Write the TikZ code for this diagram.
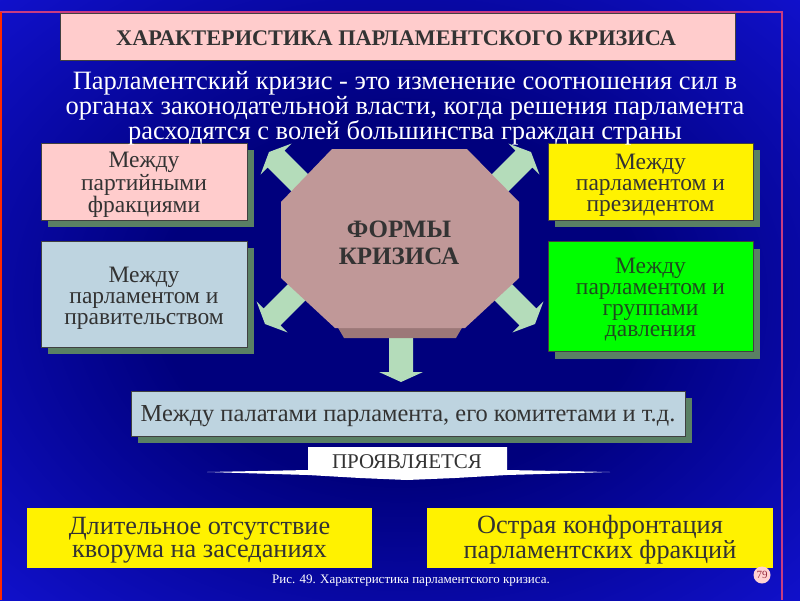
\documentclass[tikz,border=0pt]{standalone}
\usepackage{fontspec}
\setmainfont{Liberation Serif}
\usetikzlibrary{shadows}
\definecolor{bgdark}{RGB}{0,0,125}
\definecolor{bglight}{RGB}{22,22,228}
\definecolor{borderpink}{RGB}{200,60,130}
\definecolor{borderred}{RGB}{255,40,0}
\definecolor{pinkfill}{RGB}{255,204,204}
\definecolor{bluefill}{RGB}{190,212,224}
\definecolor{shadowc}{RGB}{90,128,100}
\definecolor{octfill}{RGB}{192,152,152}
\definecolor{octdark}{RGB}{156,120,120}
\definecolor{arrowc}{RGB}{180,220,186}
\definecolor{textc}{RGB}{51,51,51}
\definecolor{greentext}{RGB}{30,75,30}
\definecolor{badgefill}{RGB}{255,210,210}
\definecolor{badgetext}{RGB}{150,40,60}
\pgfdeclareradialshading{bgshade}{\pgfpoint{0bp}{0bp}}{color(0bp)=(bgdark); color(15bp)=(bgdark); color(42bp)=(bglight); color(100bp)=(bglight)}
\tikzset{
  boxbase/.style={rectangle, draw=black!75, line width=0.6pt, inner sep=0pt},
  shadowbox/.style={boxbase, drop shadow={shadow xshift=7pt, shadow yshift=-7pt, fill=shadowc, opacity=1}},
  boxtext/.style={align=center, inner sep=0pt, text=textc, font=\fontsize{23.5}{21}\selectfont},
  blockarr/.style={fill=arrowc, draw=none},
}
\newcommand{\blockarrow}[4]{%
  \begin{scope}[shift={(#1,#2)}, rotate=#3]
    \fill[blockarr] (0,0) -- (-10,22) -- (-10,12) -- (-#4,12) -- (-#4,-12) -- (-10,-12) -- (-10,-22) -- cycle;
  \end{scope}}
\begin{document}
\begin{tikzpicture}[x=1pt,y=-1pt]
\useasboundingbox (0,0) rectangle (800,600);
\fill[shading=bgshade] (0,0) rectangle (800,600);
\draw[borderpink, line width=2pt] (0,12) -- (782,12) -- (782,600);
\draw[borderred, line width=2.5pt] (1,12) -- (1,600);

% title
\node[boxbase, fill=pinkfill, minimum width=675pt, minimum height=47pt] (title) at (397.5,36.5) {};
\node[inner sep=0pt, text=textc, font=\bfseries\fontsize{22.3}{24}\selectfont] (titletext) at (396,38) {ХАРАКТЕРИСТИКА ПАРЛАМЕНТСКОГО КРИЗИСА};

% arrows
\blockarrow{269}{152}{135}{55}
\blockarrow{531}{152}{45}{55}
\blockarrow{265}{324}{225}{55}
\blockarrow{535}{324}{-45}{55}
\blockarrow{401}{382}{-90}{50}

% octagon
\fill[octdark] (337,326) -- (463,326) -- (456,338) -- (344,338) -- cycle;
\fill[octfill] (332,149) -- (467,149) -- (519,202) -- (519,278) -- (465,328) -- (335,328) -- (281,278) -- (281,202) -- cycle;
\node[align=center, text=textc, inner sep=0pt, font=\bfseries\fontsize{25}{27}\selectfont] (forms) at (399,243) {ФОРМЫ\\КРИЗИСА};

% side boxes
\node[shadowbox, fill=pinkfill, minimum width=206pt, minimum height=77pt] (b1) at (144,181.5) {};
\node[boxtext] (t1) at (144,185) {Между\\партийными\\фракциями};
\node[shadowbox, fill=bluefill, minimum width=206pt, minimum height=106pt] (b2) at (144,294) {};
\node[boxtext] (t2) at (144,298) {Между\\парламентом и\\правительством};
\node[shadowbox, fill=yellow, minimum width=205pt, minimum height=77pt] (b3) at (650.5,181.5) {};
\node[boxtext] (t3) at (650.5,185) {Между\\парламентом и\\президентом};
\node[shadowbox, fill=green, minimum width=205pt, minimum height=110pt] (b4) at (650.5,296.5) {};
\node[boxtext, text=greentext] (t4) at (650.5,300) {Между\\парламентом и\\группами\\давления};

% definition (drawn over the boxes so that it is never clipped)
\node[align=center, text=white, inner sep=0pt, font=\fontsize{26.5}{23}\selectfont] (def) at (405,108.5) {Парламентский кризис - это изменение соотношения сил в\\органах законодательной власти, когда решения парламента\\расходятся с волей большинства граждан страны};

% bottom box
\node[shadowbox, fill=bluefill, minimum width=554pt, minimum height=45pt] (b5) at (408,413.5) {};
\node[boxtext, font=\fontsize{24.4}{26}\selectfont] (t5) at (408,416) {Между палатами парламента, его комитетами и т.д.};

% banner
\fill[white] (207,472) -- (308,470) -- (308,447) -- (507,447) -- (507,470) -- (610,472) -- (507,475) -- (455,478) -- (407,480) -- (360,478) -- (308,475) -- cycle;
\node[text=textc, inner sep=0pt, font=\fontsize{21}{22}\selectfont] (pr) at (407,462) {ПРОЯВЛЯЕТСЯ};

% bottom yellow boxes
\node[rectangle, fill=yellow, inner sep=0pt, minimum width=345pt, minimum height=60pt] (y1) at (199.5,538) {};
\node[boxtext, font=\fontsize{26.3}{22.5}\selectfont] (ty1) at (199.5,540) {Длительное отсутствие\\кворума на заседаниях};
\node[rectangle, fill=yellow, inner sep=0pt, minimum width=346pt, minimum height=60pt] (y2) at (600,538) {};
\node[boxtext, font=\fontsize{26.3}{22.5}\selectfont] (ty2) at (600,540) {Острая конфронтация\\парламентских фракций};

% caption
\node[text=white, inner sep=0pt, font=\fontsize{13}{14}\selectfont] (cap) at (411,581) {Рис. 49. Характеристика парламентского кризиса.};
\node[circle, fill=badgefill, inner sep=0pt, minimum size=17pt, text=badgetext, font=\fontsize{11}{11}\selectfont] (badge) at (762,575) {79};
\end{tikzpicture}
\end{document}
